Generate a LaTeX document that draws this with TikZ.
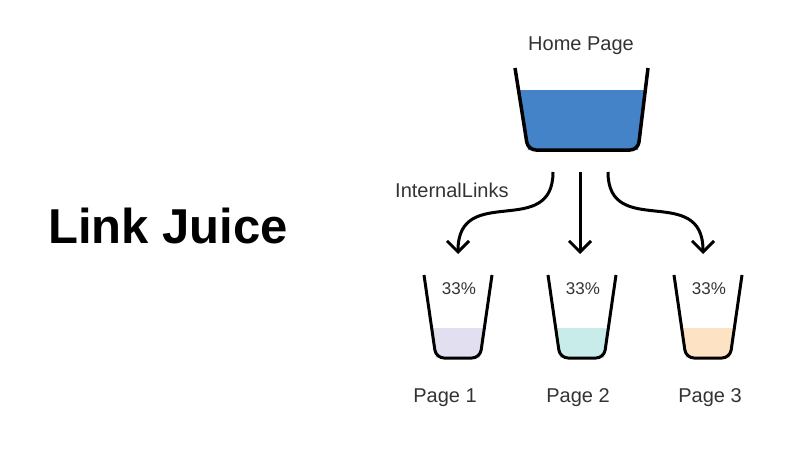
\documentclass[tikz,border=0pt]{standalone}
\usepackage{fontspec}
\setmainfont{Liberation Sans}
\usetikzlibrary{arrows.meta}
\definecolor{homeblue}{HTML}{4583C9}
\definecolor{juice1}{HTML}{E1DFF0}
\definecolor{juice2}{HTML}{C8ECEA}
\definecolor{juice3}{HTML}{FDE3C3}
\definecolor{inkgray}{HTML}{333333}

\begin{document}
\begin{tikzpicture}[x=1pt, y=-1pt,
  wall/.style={line width=3.5pt, line join=round, rounded corners=8pt},
  link/.style={line width=3pt, -{Straight Barb[length=11pt,width=22pt,line width=3pt]}},
  txt/.style={font=\fontsize{20}{24}\selectfont, text=inkgray, inner sep=0pt}]
  \useasboundingbox (0,0) rectangle (800,450);

  % Title
  \node[font=\fontsize{49}{56}\selectfont\bfseries, anchor=base west, inner sep=0pt] (title) at (48,243) {Link Juice};

  % Home page bucket
  \begin{scope}
    \clip (515,70) -- (528,150) -- (638,150) -- (648,70) -- cycle;
    \fill[homeblue] (500,90) rectangle (660,160);
  \end{scope}
  \draw[wall] (515,68) -- (528,150) -- (638,150) -- (648,68);
  \node[txt, anchor=base] (home) at (581,50) {Home Page};

  % Links to the pages
  \coordinate (out1) at (553,172);
  \coordinate (out2) at (580,172);
  \coordinate (out3) at (608,172);
  \coordinate (in1) at (458,254);
  \coordinate (in2) at (580,254);
  \coordinate (in3) at (703,254);
  \draw[link] (out1) .. controls +(0,68) and +(0,-72) .. (in1);
  \draw[link] (out2) -- (in2);
  \draw[link] (out3) .. controls +(0,68) and +(0,-72) .. (in3);
  \node[txt, anchor=base west] (links) at (395,197) {InternalLinks};

  % Page cups
  \foreach \cx/\lx/\col/\n in {458/445/juice1/1, 582/578/juice2/2, 708/710/juice3/3} {
    \begin{scope}[shift={(\cx,0)}]
      \clip (-34,277) -- (-22,358) -- (22,358) -- (34,277) -- cycle;
      \fill[\col] (-40,328) rectangle (40,362);
    \end{scope}
    \draw[wall, line width=3pt] (\cx-34,275) -- (\cx-22,358) -- (\cx+22,358) -- (\cx+34,275);
    \node[txt, font=\fontsize{17}{20}\selectfont, anchor=base] (pct\n) at (\cx+1,294) {33\%};
    \node[txt, anchor=base] (page\n) at (\lx,402) {Page \n};
  }
\end{tikzpicture}
\end{document}
